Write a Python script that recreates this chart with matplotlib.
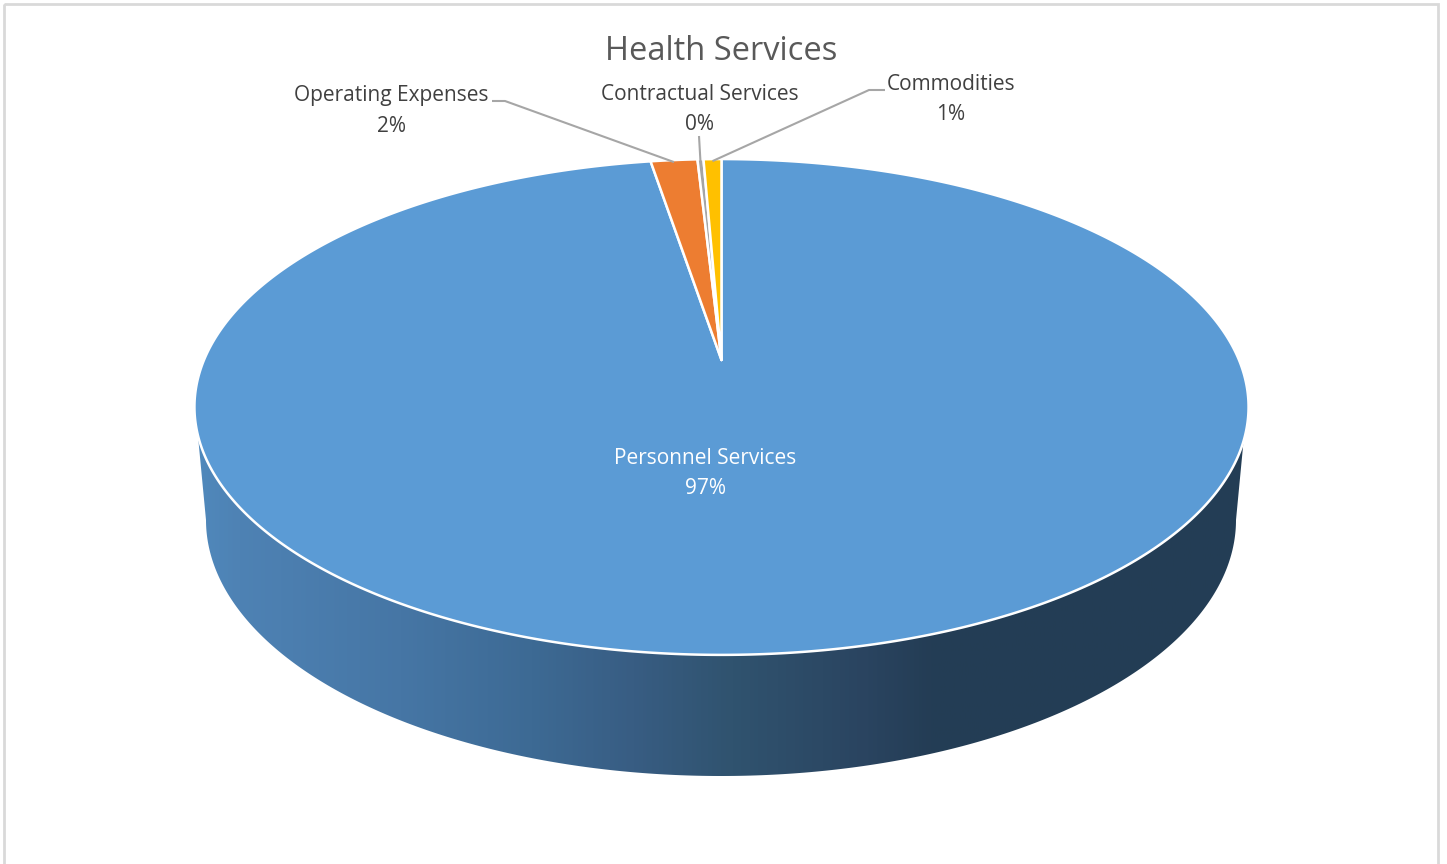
import numpy as np
import matplotlib.pyplot as plt
from matplotlib.colors import LinearSegmentedColormap
from matplotlib.patches import Polygon, Rectangle

plt.rcParams['font.family'] = ['Open Sans', 'DejaVu Sans']

# Budget shares, clockwise from twelve o'clock
categories = ["Personnel Services", "Operating Expenses", "Contractual Services", "Commodities"]
shares = [97.40, 1.72, 0.22, 0.66]
slice_colors = ["#5B9BD5", "#ED7D31", "#A5A5A5", "#FFC000"]
chart_title = "Health Services"

# Tilted disc: projective mapping of the unit circle
APEX_X, APEX_Y = 721.5, 360
SCALE_X, SCALE_Y, TILT = 517.5, 239.0, 0.1895

# Lower rim of the disc
RIM_CX, RIM_CY, RIM_A, RIM_B = 721, 520, 515, 256


def project(theta):
    u, v = np.sin(theta), np.cos(theta)
    w = 1 + TILT * v
    return APEX_X + SCALE_X * u / w, APEX_Y - SCALE_Y * v / w


fig = plt.figure(figsize=(14.47, 8.64), dpi=100)
ax = fig.add_axes([0, 0, 1, 1])
ax.set_xlim(0, 1447)
ax.set_ylim(864, 0)
ax.axis('off')

# chart frame
ax.add_patch(Rectangle((4, 4), 1434, 900, fill=False, ec='#D9D9D9', lw=2))

# side wall with the left-to-right shading
t_top = np.linspace(0, 1, 300)
ex = 721 + 527 * np.cos(np.pi * (1 - t_top))
ey = 407 + 248 * np.sin(np.pi * (1 - t_top))
keep = ey >= 437
top_edge = np.column_stack([ex[keep], ey[keep]])
rim_t = np.linspace(0, np.pi, 300)
rim_x = RIM_CX + RIM_A * np.cos(rim_t)
rim_y = RIM_CY + RIM_B * np.sin(rim_t)
wall_pts = np.vstack([top_edge, np.column_stack([rim_x, rim_y])])

wall_cmap = LinearSegmentedColormap.from_list(
    "wall", [(0, "#5089BC"), (0.04, "#4E82B4"), (0.195, "#4676A5"), (0.32, "#3D6A94"),
             (0.416, "#385D83"), (0.51, "#30536F"), (0.64, "#2A4460"), (0.70, "#243D55"),
             (1, "#233E55")])
wall_img = ax.imshow(np.linspace(0, 1, 512).reshape(1, -1), cmap=wall_cmap,
                     extent=(195, 1247, 800, 420), aspect='auto', zorder=1)
wall_clip = Polygon(wall_pts, closed=True, transform=ax.transData, fc='none', ec='none')
ax.add_patch(wall_clip)
wall_img.set_clip_path(wall_clip)
ax.set_xlim(0, 1447)
ax.set_ylim(864, 0)

# top face of the disc
edges = np.cumsum([0] + shares) / sum(shares) * 2 * np.pi
mids = {}
for name, start, stop, color in zip(categories, edges[:-1], edges[1:], slice_colors):
    theta = np.linspace(start, stop, max(int((stop - start) * 120), 3))
    x, y = project(theta)
    pts = np.column_stack([np.r_[APEX_X, x], np.r_[APEX_Y, y]])
    ax.add_patch(Polygon(pts, closed=True, fc=color, ec='white', lw=1.8, zorder=2, joinstyle='round'))
    mids[name] = project((start + stop) / 2)

# data labels with value underneath
def slice_label(name, value, x, y, color='#404040'):
    ax.text(x, y, name, ha='center', va='center', fontsize=15, color=color, zorder=4)
    ax.text(x, y + 30, f"{round(value)}%", ha='center', va='center', fontsize=15, color=color, zorder=4)


slice_label(categories[0], shares[0], 705, 458, color='white')
slice_label(categories[1], shares[1], 391, 96)
slice_label(categories[2], shares[2], 700, 94)
slice_label(categories[3], shares[3], 951, 84)

# leader lines
leader_color = '#A6A6A6'
leader_starts = {categories[1]: [(492, 101), (505, 101)],
                 categories[2]: [(699, 136)],
                 categories[3]: [(885, 90), (869, 90)]}
for name, start in leader_starts.items():
    mx, my = mids[name]
    xs = [p[0] for p in start] + [mx]
    ys = [p[1] for p in start] + [my + 2]
    ax.plot(xs, ys, color=leader_color, lw=1.5, zorder=3, solid_capstyle='butt')

ax.text(721, 52, chart_title, ha='center', va='center', fontsize=23.5, color='#595959')

fig.savefig('out.png', dpi=100)
